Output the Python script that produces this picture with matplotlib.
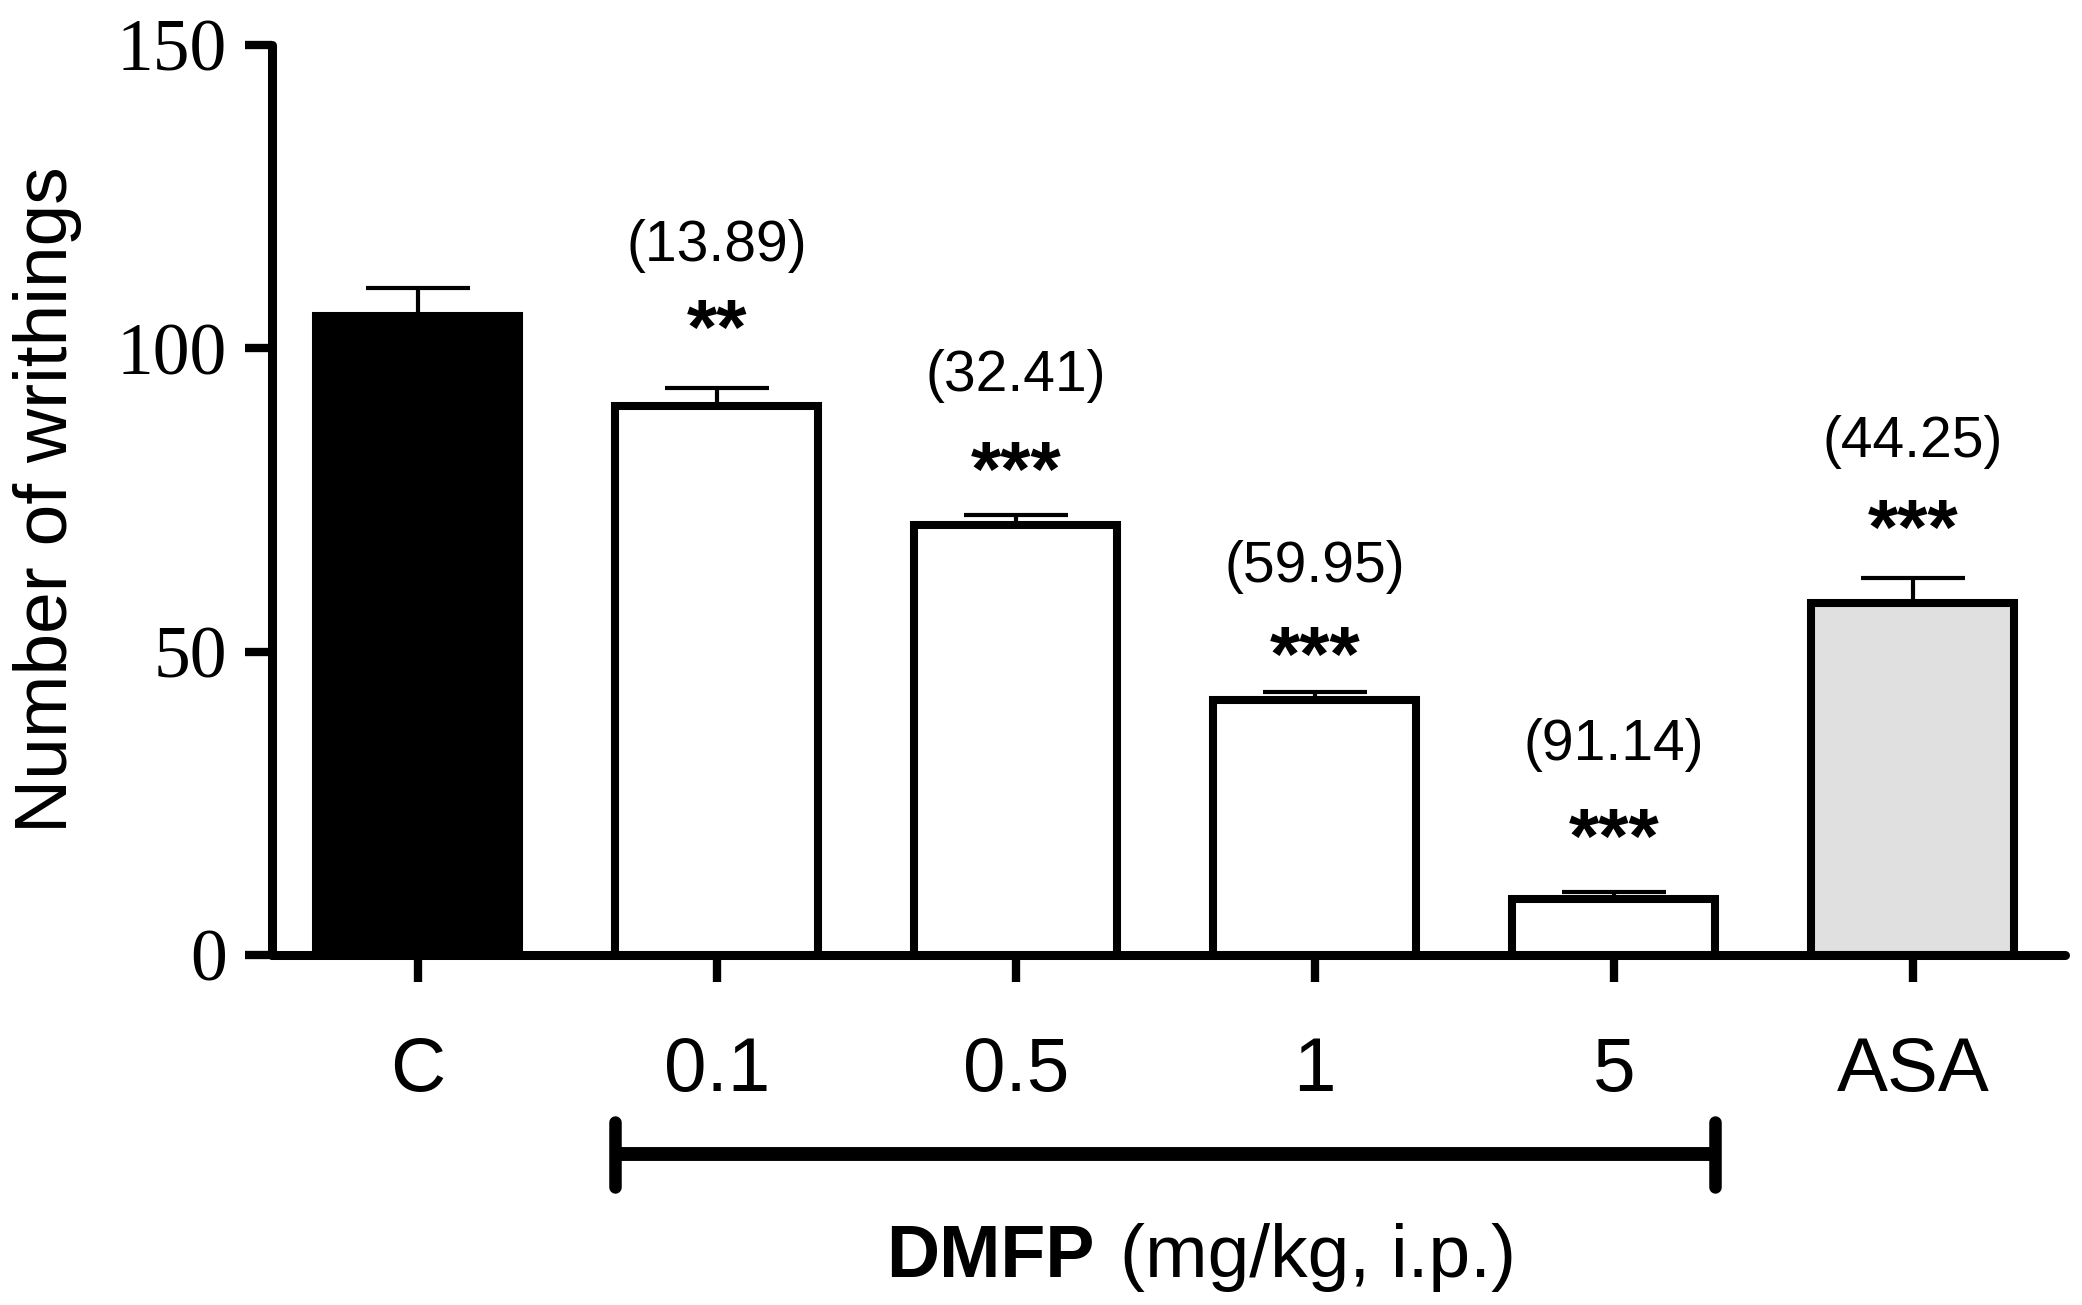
import numpy as np
import matplotlib
matplotlib.use("Agg")
import matplotlib.pyplot as plt

# ── data ──────────────────────────────────────────────────────
groups = ["C", "0.1", "0.5", "1", "5", "ASA"]
writhings = [105.4, 90.5, 70.9, 42.0, 9.2, 58.0]
sem = [4.6, 3.0, 1.6, 1.4, 1.2, 4.2]
inhibition = ["", "(13.89)", "(32.41)", "(59.95)", "(91.14)", "(44.25)"]
signif = ["", "**", "***", "***", "***", "***"]

fills = ["black", "white", "white", "white", "white", "#e0e0e0"]

SANS = "Liberation Sans"
SERIF = "Liberation Serif"

fig = plt.figure(figsize=(20.82, 13.05), dpi=100)
ax = fig.add_axes([0.1306, 0.2682, 0.9917 - 0.1306, 0.9655 - 0.2682])

x = np.arange(len(groups))
width = 0.68

ax.errorbar(x, writhings, yerr=[np.zeros(len(sem)), sem], fmt="none",
            ecolor="black", elinewidth=3, capsize=37.5, capthick=3, zorder=1)
ax.bar(x, writhings, width=width, color=fills, edgecolor="black",
       linewidth=5.8, zorder=2)

# significance stars and % inhibition above each treated group
star_off = [0, 24, 14, 8, 21, 17]
label_off = [0, 102, 100, 90, 106, 98]
for i in range(1, len(groups)):
    top = writhings[i] + sem[i]
    ax.annotate(signif[i], (x[i], top), xytext=(0, star_off[i]),
                textcoords="offset points", ha="center", va="baseline",
                fontsize=56, fontweight="bold", family=SANS)
    ax.annotate(inhibition[i], (x[i], top), xytext=(0, label_off[i]),
                textcoords="offset points", ha="center", va="center",
                fontsize=41, family=SANS)

ax.set_xlim(-0.488, 5.508)
ax.set_ylim(0, 150)
ax.set_yticks([0, 50, 100, 150])
ax.set_xticks(x)
ax.set_xticklabels(groups, fontsize=55, family=SANS)
for t in ax.get_yticklabels():
    t.set_fontsize(53)
    t.set_family(SERIF)

for side in ["top", "right"]:
    ax.spines[side].set_visible(False)
for side in ["left", "bottom"]:
    ax.spines[side].set_linewidth(6.5)
    ax.spines[side].set_capstyle("round")
ax.tick_params(axis="x", length=19.5, width=6, pad=39)
ax.tick_params(axis="y", length=19.5, width=6, pad=13)

fig.text(0.023, 0.617, "Number of writhings", rotation=90, ha="center",
         va="center", fontsize=54, family=SANS)

# bracket under the DMFP doses
trans = ax.get_xaxis_transform()
x0 = x[1] - width / 2
x1 = x[4] + width / 2
ax.plot([x0, x1], [-0.2187, -0.2187], color="black", lw=10,
        solid_capstyle="butt", transform=trans, clip_on=False)
for xe in (x0, x1):
    ax.plot([xe, xe], [-0.1835, -0.2549], color="black", lw=9,
            solid_capstyle="round", transform=trans, clip_on=False)

fig.text(0.4256, 0.0215, "DMFP", ha="left", va="baseline", fontsize=53,
         fontweight="bold", family=SANS)
fig.text(0.538, 0.0215, "(mg/kg, i.p.)", ha="left", va="baseline",
         fontsize=54, family=SANS)

fig.savefig("out.png", dpi=100)
